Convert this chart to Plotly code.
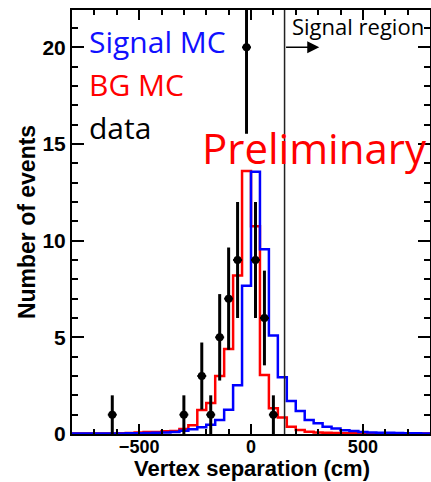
import numpy as np
import plotly.graph_objects as go

# ---------------- data ----------------
BIN_LOW = -800          # cm, lower edge of first bin
BIN_WIDTH = 40          # cm

# Signal MC (blue) - 40 bins from -800 to 800 cm
signal_mc = [0.02, 0.02, 0.02, 0.03, 0.03, 0.03, 0.04, 0.04, 0.05, 0.06,
             0.08, 0.10, 0.17, 0.25, 0.35, 0.48, 0.72, 1.26, 2.52, 7.67,
             13.57, 9.55, 5.09, 2.93, 1.71, 1.19, 0.72, 0.55, 0.38, 0.29,
             0.20, 0.16, 0.10, 0.08, 0.07, 0.06, 0.05, 0.04, 0.04, 0.03]

# Background MC (red)
bg_mc = [0.02, 0.02, 0.03, 0.03, 0.03, 0.04, 0.05, 0.08, 0.10, 0.10,
         0.14, 0.16, 0.26, 0.45, 1.24, 1.60, 3.00, 4.40, 8.20, 13.60,
         10.75, 3.05, 1.33, 0.85, 0.38, 0.21, 0.12, 0.08, 0.06, 0.05,
         0.04, 0.04, 0.03, 0.03, 0.03, 0.02, 0.02, 0.02, 0.02, 0.02]

# Data points (bin centres, counts)
data_x = [-620, -300, -220, -180, -140, -100, -60, -20, 20, 60, 100]
data_n = [1, 1, 3, 1, 5, 7, 9, 20, 9, 6, 1]

signal_cut = 150        # cm, start of signal region
arrow_end = 305         # cm
arrow_level = 20        # events

x_ticks_major = 500
x_ticks_minor = 100
y_ticks_major = 5
y_ticks_minor = 1
x_range = [-800, 800]
y_range = [0, 21.93]

# ---------------- figure ----------------
edges = BIN_LOW + BIN_WIDTH * np.arange(len(signal_mc) + 1)
data_err = np.sqrt(np.array(data_n, dtype=float))

fig = go.Figure()

fig.add_trace(go.Scatter(
    x=edges, y=list(bg_mc) + [bg_mc[-1]], mode="lines",
    line=dict(color="#ff0000", width=2.5, shape="hv"), hoverinfo="skip"))
fig.add_trace(go.Scatter(
    x=edges, y=list(signal_mc) + [signal_mc[-1]], mode="lines",
    line=dict(color="#0000ff", width=2.5, shape="hv"), hoverinfo="skip"))

fig.add_trace(go.Scatter(
    x=data_x, y=data_n, mode="markers",
    marker=dict(color="black", size=8, symbol="circle"),
    error_y=dict(type="data", array=data_err, color="black", thickness=3, width=0),
    error_x=dict(type="constant", value=BIN_WIDTH / 2, color="black", thickness=2, width=0),
    cliponaxis=True))

# signal region line
fig.add_shape(type="line", xref="x", yref="paper", x0=signal_cut, x1=signal_cut,
              y0=0, y1=1, line=dict(color="#222222", width=1.5), layer="above")

# arrow
fig.add_annotation(x=arrow_end, y=arrow_level, ax=signal_cut, ay=arrow_level,
                   xref="x", yref="y", axref="x", ayref="y", text="",
                   showarrow=True, arrowhead=2, arrowwidth=1.5, arrowsize=1.6,
                   arrowcolor="black", standoff=0, startstandoff=0)

txt_font = "Open Sans"
annots = [
    ("Signal MC", 0.041, 0.925, 30, "#1010ff"),
    ("BG MC", 0.041, 0.825, 30, "#ff0000"),
    ("data", 0.041, 0.724, 30, "black"),
    ("Preliminary", 0.358, 0.676, 42, "#ff0000"),
    ("Signal region", 0.608, 0.963, 22, "black"),
]
for t, x, y, s, c in annots:
    fig.add_annotation(text=t, x=x, y=y, xref="paper", yref="paper",
                       xanchor="left", yanchor="middle", showarrow=False,
                       font=dict(family=txt_font, size=s, color=c))

axis_font = dict(family="Liberation Sans", size=18, color="black", weight="bold")
title_font = dict(family="Liberation Sans", size=22, color="black", weight="bold")

# x-axis title placed as an annotation for exact positioning (box bottom at canvas edge)
fig.add_annotation(text="Vertex separation (cm)", x=0.504, y=-0.1132,
                   xref="paper", yref="paper", xanchor="center", yanchor="bottom",
                   showarrow=False, font=title_font, borderpad=0)

fig.update_xaxes(
    range=x_range, showline=True, linecolor="black", linewidth=2, mirror="ticks",
    ticks="inside", ticklen=10, tickwidth=1.5, tickcolor="black",
    tick0=0, dtick=x_ticks_major, ticklabelstandoff=-5,
    minor=dict(dtick=x_ticks_minor, ticklen=5, ticks="inside", tickwidth=1.5, tickcolor="black"),
    tickfont=axis_font, showgrid=False, zeroline=False,
)
fig.update_yaxes(
    range=y_range, showline=True, linecolor="black", linewidth=2, mirror="ticks",
    ticks="inside", ticklen=12, tickwidth=1.5, tickcolor="black",
    tick0=0, dtick=y_ticks_major,
    minor=dict(dtick=y_ticks_minor, ticklen=6, ticks="inside", tickwidth=1.5, tickcolor="black"),
    tickfont=dict(family="Liberation Sans", size=21, color="black", weight="bold"),
    showgrid=False, zeroline=False,
    title=dict(text="Number of events",
               font=dict(family="Liberation Sans", size=23, color="black", weight="bold"),
               standoff=0),
)

fig.update_layout(
    width=431, height=482,
    margin=dict(l=72, r=1, t=10, b=48, autoexpand=False),
    plot_bgcolor="white", paper_bgcolor="white",
    showlegend=False,
)

fig.write_html("out.html")
